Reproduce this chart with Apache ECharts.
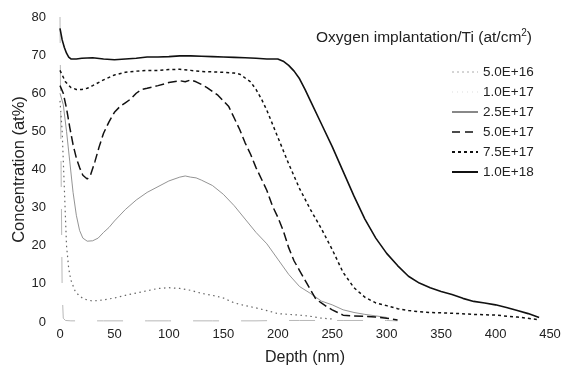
<!DOCTYPE html>
<html>
<head>
<meta charset="utf-8">
<script src="https://cdn.jsdelivr.net/npm/echarts@6/dist/echarts.min.js"></script>
<style>html,body{margin:0;padding:0;background:#fff}#c{width:566px;height:372px}</style>
</head>
<body>
<div id="c"></div>
<script>
var seriesNames = ['5.0E+16','1.0E+17','2.5E+17','5.0E+17','7.5E+17','1.0E+18'];
var xTicks = [0,50,100,150,200,250,300,350,400,450];
var yTicks = [0,10,20,30,40,50,60,70,80];

var depthA = [0,1,2,3,5,10,20,40,60,80,100,120,140,160,180,200,220,240,260,280,300,310];
var concA  = [80,40,8,1,0.4,0.3,0.3,0.3,0.3,0.3,0.3,0.3,0.3,0.3,0.3,0.4,0.4,0.4,0.4,0.4,0.4,0.3];

var depthB = [0,2,4,6,8,10,14,18,22,30,40,50,60,70,80,90,100,110,120,130,140,150,160,170,180,190,200,210,220,230,240,250];
var concB  = [58,50,35,20,14,11,8,6.8,6,5.5,5.8,6.3,7,7.6,8.2,8.8,9,8.8,8.3,7.5,7,6.3,5,4.3,3.7,3,2.2,2,1.8,1.5,1,0.8];

var depthC = [0,3,6,9,12,15,18,21,25,30,35,40,45,50,60,70,80,90,100,110,115,120,125,130,140,150,160,170,180,190,200,210,220,230,240,250,260,270,280,290,300];
var concC  = [60,57,50,42,34,28,24,22,21.2,21.3,22,23.5,24.8,26.5,29.5,32,34,35.5,37,38,38.3,38,37.8,37.2,35.8,33.5,30.5,27,23.5,20.5,16.5,12.5,9.3,7.5,5.5,4.5,3.2,2.5,2,1.6,1.2];

var depthD = [0,3,6,9,12,15,18,21,25,28,32,36,40,45,50,55,60,65,70,75,80,90,100,110,115,120,125,130,135,140,145,150,155,160,165,170,175,180,185,190,195,200,205,210,215,220,225,230,235,240,245,250,255,260,270,280,290,300,310];
var concD  = [62,60,56,51,46.5,43,40.5,38.5,37.5,38.5,42,46,49.5,52.5,55,56.5,57.5,58.5,60,61,61.3,62,62.8,63.3,63,63.5,63,62.3,61.5,60.5,59.5,58,56.5,53.5,50.5,47,44,40.5,37.5,34.5,30.5,27.5,24,19.5,16,13.5,11,8.5,6,5,4,3.2,2.5,1.8,1.6,1.5,1.3,1,0.5];

var depthE = [0,5,10,15,20,25,30,40,50,60,70,80,90,100,110,120,130,140,150,160,165,170,175,180,185,190,195,200,205,210,220,230,240,250,260,270,280,290,300,310,320,330,340,360,380,400,420,440];
var concE  = [66,63,61.5,61,61,61.3,62,63.5,64.8,65.5,65.8,66,66,66.2,66.3,66,65.7,65.6,65.5,65.3,65,64,63,61,58.5,55.5,52,48.5,45,41.5,35,29.5,24.5,19,13,9,6.5,5,4.3,3.5,3,2.7,2.5,2.3,2,1.8,1.3,0.6];

var depthF = [0,2,4,6,8,10,15,20,30,40,50,60,70,80,90,100,110,120,130,140,150,160,170,180,190,200,205,210,215,220,225,230,240,250,260,270,280,290,300,310,320,330,340,350,360,370,380,390,400,410,420,430,440];
var concF  = [77,74,72,70.5,69.5,69,69,69.2,69.3,69,68.8,69,69.2,69.5,69.5,69.6,69.8,69.8,69.7,69.6,69.5,69.4,69.3,69.2,69,69,68.4,67.3,65.8,63.8,61,58,52,46,39.5,33,27,22,18,14.8,12,10.2,9,8,7.2,6.2,5.4,5,4.5,3.8,3,2.2,1.2];

function pairs(d, c){ return d.map(function(v,i){ return [v, c[i]]; }); }

var dataSets = [pairs(depthA,concA), pairs(depthB,concB), pairs(depthC,concC), pairs(depthD,concD), pairs(depthE,concE), pairs(depthF,concF)];
var styles = [
  {color:'#b8b8b8', width:1, type:[26,22]},
  {color:'#666', width:1.2, type:[1.5,3.5]},
  {color:'#888', width:0.9, type:'solid'},
  {color:'#111', width:1.5, type:[9,4]},
  {color:'#111', width:1.5, type:[3,3]},
  {color:'#111', width:1.6, type:'solid'}
];
var legendLine = [
  {color:'#aaa', width:1, type:[2,3]},
  {color:'#ddd', width:1, type:[1,4]},
  null, {color:'#111', width:1.5, type:[8,5]}, null, null
];

var chart = echarts.init(document.getElementById('c'), null, {renderer:'canvas'});
var font = 'Liberation Sans, Arial, sans-serif';
chart.setOption({
  animation:false,
  backgroundColor:'#fff',
  title:{
    text:'Oxygen implantation/Ti (at/cm{sup|2})',
    left:316, top:28, padding:0,
    textStyle:{fontFamily:font, fontSize:15.5, fontWeight:'normal', color:'#222',
      rich:{sup:{fontSize:10, verticalAlign:'top', padding:[0,0,9,0], fontFamily:font, color:'#222'}}}
  },
  legend:{
    show:true, padding:0,
    orient:'vertical', left:451, top:65, itemWidth:26, itemHeight:13, itemGap:6,
    itemStyle:{opacity:0},
    textStyle:{fontFamily:font, fontSize:13.5, color:'#222'},
    data:seriesNames.map(function(n,i){
      var o = {name:n};
      if (legendLine[i]) o.lineStyle = legendLine[i];
      return o;
    })
  },
  grid:{left:60, right:16, top:17, bottom:50, outerBoundsMode:'none'},
  xAxis:{
    type:'value', min:0, max:450, interval:50,
    name:'Depth (nm)', nameLocation:'middle', nameGap:28,
    nameTextStyle:{fontFamily:font, fontSize:16, color:'#222'},
    axisLine:{show:false}, axisTick:{show:false}, splitLine:{show:false},
    axisLabel:{fontFamily:font, fontSize:13, color:'#222', margin:6,
      formatter:function(v){return xTicks.indexOf(v)>=0 ? String(v) : '';}}
  },
  yAxis:{
    type:'value', min:0, max:80, interval:10,
    name:'Concentration (at%)', nameLocation:'middle', nameGap:32, nameMoveOverlap:false,
    nameTextStyle:{fontFamily:font, fontSize:16.5, color:'#222'},
    axisLine:{show:false}, axisTick:{show:false}, splitLine:{show:false},
    axisLabel:{fontFamily:font, fontSize:13, color:'#222', margin:14,
      formatter:function(v){return yTicks.indexOf(v)>=0 ? String(v) : '';}}
  },
  series: seriesNames.map(function(n,i){
    return {name:n, type:'line', data:dataSets[i], showSymbol:false, symbol:'none',
      lineStyle:{color:styles[i].color, width:styles[i].width, type:styles[i].type},
      itemStyle:{color:styles[i].color}, z:i+2};
  })
});
</script>
</body>
</html>
